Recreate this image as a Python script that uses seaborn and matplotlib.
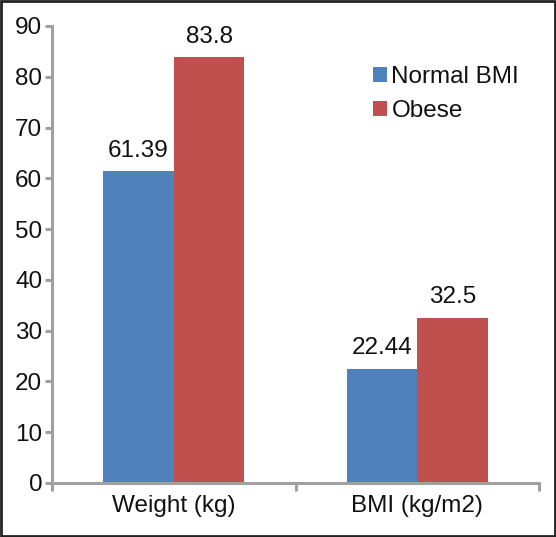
import numpy as np
import pandas as pd
import matplotlib.pyplot as plt
import seaborn as sns

# data
categories = ['Weight (kg)', 'BMI (kg/m2)']
normal_bmi = [61.39, 22.44]
obese = [83.8, 32.5]
value_labels = [['61.39', '22.44'], ['83.8', '32.5']]

df = pd.DataFrame({
    'category': categories * 2,
    'group': ['Normal BMI'] * 2 + ['Obese'] * 2,
    'value': normal_bmi + obese,
})

colors = ["#4F81BD", "#C0504D"]

sns.set_style("white")
plt.rcParams['font.family'] = ['Liberation Sans', 'DejaVu Sans']

fig = plt.figure(figsize=(5.56, 5.37), dpi=100)
ax = fig.add_axes([0.0935, 0.1006, 0.876, 0.851])

sns.barplot(data=df, x='category', y='value', hue='group', palette=colors,
            width=0.58, saturation=1, ax=ax, edgecolor='none')

# value labels above bars
for container, labels in zip(ax.containers, value_labels):
    ax.bar_label(container, labels=labels, padding=7, fontsize=17.5, color='#111111')

ax.set_ylim(0, 90)
ax.set_xlim(-0.5, 1.5)
ax.set_yticks(np.arange(0, 91, 10))
ax.set_xlabel('')
ax.set_ylabel('')

# axis look
for side in ['top', 'right']:
    ax.spines[side].set_visible(False)
for side in ['left', 'bottom']:
    ax.spines[side].set_color('#A0A0A0')
    ax.spines[side].set_linewidth(2.2)

ax.tick_params(axis='y', which='major', left=True, length=5, width=2.2,
               color='#A0A0A0', labelsize=17.5, labelcolor='#111111', pad=2)
ax.tick_params(axis='x', which='major', bottom=False, length=0, labelsize=17.5,
               labelcolor='#111111', pad=9)
ax.set_xticks([-0.5, 0.5, 1.5], minor=True)
ax.tick_params(axis='x', which='minor', bottom=True, length=6, width=2.2,
               color='#A0A0A0')

leg = ax.legend(loc='upper left', bbox_to_anchor=(0.66, 0.912), frameon=False,
                fontsize=17.5, handlelength=0.57, handleheight=0.57,
                handletextpad=0.17, labelspacing=0.5, borderaxespad=0,
                borderpad=0)
for t in leg.get_texts():
    t.set_color('#111111')

# outer border around the figure
fig.patches.append(plt.Rectangle((0.002, 0.002), 0.996, 0.996, transform=fig.transFigure,
                                 fill=False, edgecolor='#222222', linewidth=2))

plt.savefig('out.png', dpi=100)
